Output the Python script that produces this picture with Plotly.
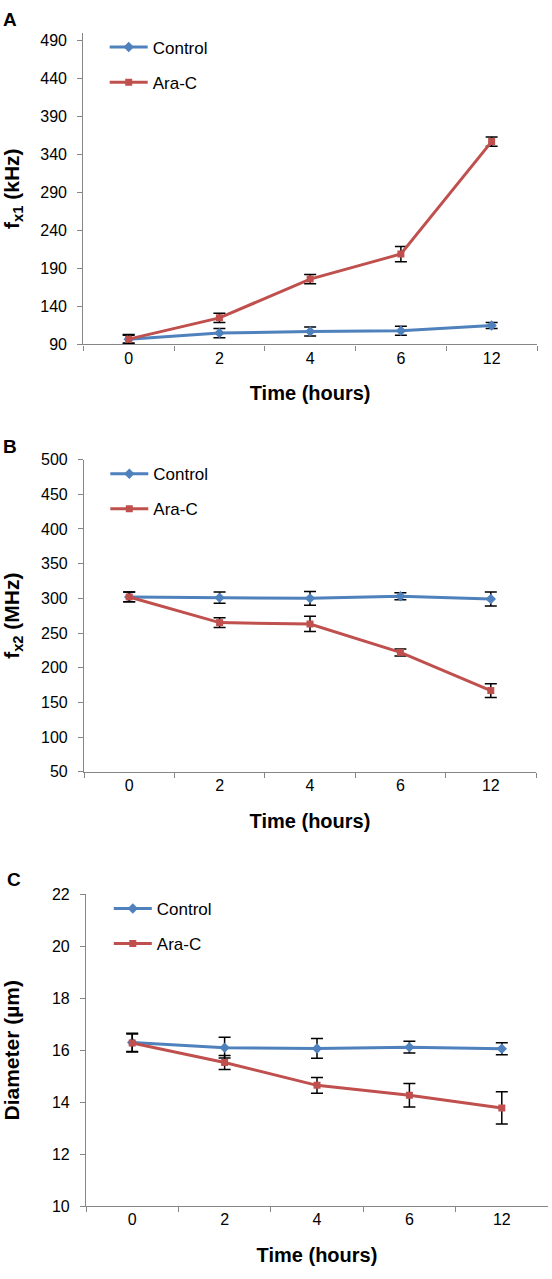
import plotly.graph_objects as go

times = ["0", "2", "4", "6", "12"]

a_ctrl = [97, 105, 107, 108, 115]
a_ctrl_err = [5, 6, 6, 6, 4]
a_ara = [97, 125, 176, 209, 357]
a_ara_err = [6, 6, 6, 10, 6]

b_ctrl = [302, 301, 300, 303, 299]
b_ctrl_err = [7, 8, 10, 5, 10]
b_ara = [302, 265, 263, 222, 167]
b_ara_err = [7, 7, 11, 5, 10]

c_ctrl = [16.3, 16.1, 16.07, 16.12, 16.06]
c_ctrl_err = [0.35, 0.4, 0.38, 0.23, 0.23]
c_ara = [16.28, 15.53, 14.65, 14.27, 13.78]
c_ara_err = [0.35, 0.27, 0.3, 0.45, 0.62]

W, H = 552, 1279
BLUE = "#4F81BD"
RED = "#C0504D"
AXC = "#868686"
FONT = "Liberation Sans, Arial, sans-serif"

panels = [
    dict(ctrl=a_ctrl, ce=a_ctrl_err, ara=a_ara, ae=a_ara_err,
         xpx=(83.3, 537), ypx=(25.3, 341), rng=[90, 500], dtick=50, tick0=90,
         ytitle="<b>f<sub>x1</sub> (kHz)</b>", ystand=19, letter="A", letxy=(9.6, 12),
         legx=104.7),
    dict(ctrl=b_ctrl, ce=b_ctrl_err, ara=b_ara, ae=b_ara_err,
         xpx=(84, 536), ypx=(457.7, 774), rng=[50, 500], dtick=50, tick0=50,
         ytitle="<b>f<sub>x2</sub> (MHz)</b>", ystand=19, letter="B", letxy=(9.8, 444.5),
         legx=105.3),
    dict(ctrl=c_ctrl, ce=c_ctrl_err, ara=c_ara, ae=c_ara_err,
         xpx=(86, 548), ypx=(898.3, 1214.3), rng=[10, 22], dtick=2, tick0=10,
         ytitle="<b>Diameter (µm)</b>", ystand=28, letter="C", letxy=(14, 883.5),
         legx=108.8),
]

fig = go.Figure()
layout = dict(width=W, height=H, autosize=False,
              margin=dict(l=0, r=0, t=0, b=0),
              paper_bgcolor="white", plot_bgcolor="white",
              font=dict(family=FONT, size=16, color="black"),
              annotations=[])

for i, p in enumerate(panels):
    n = "" if i == 0 else str(i + 1)
    xa, ya = "x" + n, "y" + n
    leg = "legend" + n
    fig.add_trace(go.Scatter(
        x=times, y=p["ctrl"], name="Control", mode="lines+markers",
        xaxis=xa, yaxis=ya, legend=leg, legendgroup="c" + str(i),
        line=dict(color=BLUE, width=3),
        marker=dict(symbol="diamond", size=8, color=BLUE),
        error_y=dict(type="data", array=p["ce"], color="black", thickness=1.5, width=6)))
    fig.add_trace(go.Scatter(
        x=times, y=p["ara"], name="Ara-C", mode="lines+markers",
        xaxis=xa, yaxis=ya, legend=leg, legendgroup="a" + str(i),
        line=dict(color=RED, width=3),
        marker=dict(symbol="square", size=7, color=RED),
        error_y=dict(type="data", array=p["ae"], color="black", thickness=1.5, width=6)))

    x0, x1 = p["xpx"][0] / W, p["xpx"][1] / W
    y0, y1 = 1 - p["ypx"][1] / H, 1 - p["ypx"][0] / H
    layout["xaxis" + n] = dict(
        domain=[x0, x1], anchor=ya, type="category", range=[-0.5, 4.5],
        tickson="boundaries", ticks="outside", ticklen=5, tickcolor=AXC,
        showline=True, linecolor=AXC, linewidth=1.2, showgrid=False,
        tickfont=dict(size=16), ticklabelstandoff=-1,
        title=dict(text="<b>Time (hours)</b>", font=dict(size=20), standoff=20))
    layout["yaxis" + n] = dict(
        domain=[y0, y1], anchor=xa, range=p["rng"], tick0=p["tick0"], dtick=p["dtick"],
        ticks="outside", ticklen=5, tickcolor=AXC, showline=True, linecolor=AXC,
        linewidth=1.2, showgrid=False, zeroline=False, tickfont=dict(size=16),
        ticklabelstandoff=7,
        title=dict(text=p["ytitle"], font=dict(size=21), standoff=p["ystand"]))
    layout[leg] = dict(
        x=p["legx"] / W, y=1 - (p["ypx"][0] - 3.5) / H, xanchor="left", yanchor="top",
        bgcolor="rgba(0,0,0,0)", font=dict(size=17), tracegroupgap=10,
        traceorder="grouped", itemwidth=38)
    layout["annotations"].append(dict(
        text="<b>" + p["letter"] + "</b>", x=p["letxy"][0] / W, y=1 - p["letxy"][1] / H,
        xref="paper", yref="paper", xanchor="center", yanchor="middle",
        showarrow=False, font=dict(size=19)))

fig.update_layout(**layout)
fig.write_html("out.html", config={"displayModeBar": False},
               post_script="document.body.style.margin='0';")
